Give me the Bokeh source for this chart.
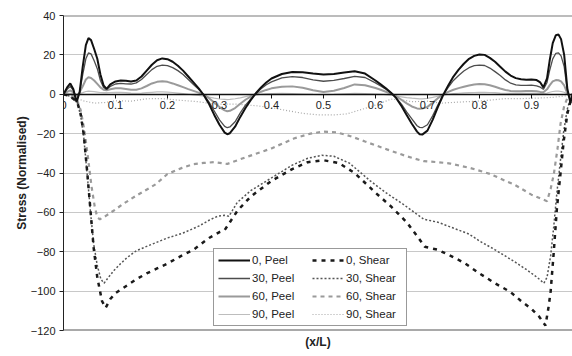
from bokeh.plotting import figure
from bokeh.models import Range1d, FixedTicker, Span, Legend, LegendItem, LinearAxis
from bokeh.embed import file_html
from bokeh.resources import INLINE

FONT = "Liberation Sans"

# ---------------- data ----------------
peel_x = [0, 0.007, 0.013, 0.019, 0.025, 0.031, 0.037, 0.043, 0.048, 0.053, 0.059, 0.065, 0.071, 0.077,
          0.083, 0.09, 0.1, 0.11, 0.12, 0.13, 0.14, 0.15, 0.16, 0.17, 0.18, 0.19, 0.2, 0.21, 0.22, 0.23,
          0.24, 0.25, 0.26, 0.27, 0.28, 0.29, 0.3, 0.31, 0.315, 0.32, 0.33, 0.34, 0.35, 0.36, 0.37, 0.38,
          0.39, 0.4, 0.42, 0.44, 0.46, 0.48, 0.5, 0.52, 0.54, 0.56, 0.58, 0.6, 0.61, 0.62, 0.63, 0.64,
          0.65, 0.66, 0.67, 0.68, 0.685, 0.69, 0.7, 0.71, 0.72, 0.73, 0.74, 0.75, 0.76, 0.77, 0.78, 0.79,
          0.8, 0.81, 0.82, 0.83, 0.84, 0.85, 0.86, 0.87, 0.88, 0.89, 0.9, 0.91, 0.917, 0.923, 0.93, 0.935,
          0.941, 0.947, 0.952, 0.957, 0.963, 0.969, 0.975, 0.981, 0.987, 0.993, 1.0]

peel_0 = [0, 3.5, 5.5, 2.5, -4, 1, 14, 25, 28.5, 27.5, 23, 18, 10, 4.5,
          2.7, 5, 6.5, 7, 6.8, 6.5, 7, 9, 12, 15, 17.3, 18.2, 17.8, 16.5, 14.5, 12,
          9, 6, 3, -0.5, -5, -10.5, -15.5, -19.5, -20.3, -19.8, -16.5, -11.5, -7, -3, 0.5, 3.5,
          6, 8, 10.3, 11.3, 11.2, 10.5, 10, 10.3, 11, 11.7, 10.5, 7, 5, 3, 0.8, -2,
          -6, -10.5, -15, -19, -20.3, -20.5, -18.5, -13, -6.5, -0.5, 4.5, 9, 12.5, 15.5, 18, 19.5,
          20.2, 20, 18.5, 16.5, 14, 11.5, 9.5, 8.2, 7.6, 7.4, 7.5, 7.2, 6, 3.5, 8, 17,
          26, 30, 30.3, 28, 20, 3, -4.5, 2, 5, 3, 0]

peel_30 = [0, 2.5, 4, 2, -3, 1, 10, 18, 21, 20.5, 17, 13, 7, 3.5,
           2.5, 4, 5.2, 5.5, 5.3, 5.2, 5.8, 7.5, 10, 12.5, 14.2, 14.8, 14.5, 13.5, 12, 10,
           7.5, 5, 2.5, -0.3, -4, -8.5, -13, -16.3, -17, -16.6, -14, -9.5, -5.5, -2.5, 0.4, 2.8,
           4.8, 6.3, 8.3, 9, 8.5, 7.3, 6.6, 7, 8, 9.1, 8.5, 5.8, 4.2, 2.5, 0.6, -1.8,
           -5, -9, -12.5, -16, -16.8, -17, -15.5, -11, -5.5, -0.4, 3.5, 7, 9.5, 11.8, 13.5, 14.5,
           14.8, 14.6, 13.3, 11.5, 9.5, 7.3, 5.6, 4.8, 4.5, 4.5, 4.6, 4.3, 3.6, 2.5, 6, 12,
           18, 20.8, 21, 19.5, 14, 2, -3.5, 1.5, 4, 2.5, 0]

peel_60 = [0, 1.2, 2, 1, -1, 1, 4, 7.5, 8.6, 8.3, 7, 5.3, 3.5, 2.3,
           2, 2.5, 3, 3, 2.7, 2.3, 2.3, 3, 4.2, 5.5, 6.3, 6.6, 6.3, 5.5, 4.6, 3.6,
           2.6, 1.7, 0.8, -0.2, -2, -4.2, -6.5, -8.2, -8.6, -8.4, -7, -4.8, -2.8, -1.2, 0.2, 1.3,
           2.2, 3, 3.8, 4, 3.3, 2, 1.2, 1.8, 3.2, 5, 4.6, 3.2, 2.3, 1.3, 0.3, -1,
           -2.8, -4.6, -6.2, -7.2, -7.4, -7.3, -6.4, -4.3, -2, -0.2, 1.2, 2.3, 3.1, 3.8, 4.4, 4.9,
           5.2, 5.1, 4.6, 3.8, 2.9, 2.2, 1.7, 1.5, 1.5, 1.6, 1.6, 1.5, 1.2, 1, 2.5, 4.5,
           6.5, 7.2, 7.1, 6.5, 4.5, 0.5, -1.5, 0.5, 2, 1.2, 0]

peel_90 = [0, 0.3, 0.5, 0.3, 0, 0.3, 0.8, 1.4, 1.6, 1.5, 1.3, 1.1, 0.9, 0.8,
           0.8, 0.9, 1, 1, 0.8, 0.6, 0.5, 0.6, 0.8, 1, 1.2, 1.2, 1.1, 0.9, 0.6, 0.3,
           0, -0.3, -0.6, -1, -1.5, -2, -2.4, -2.6, -2.7, -2.6, -2.3, -1.8, -1.2, -0.7, -0.3, 0,
           0.2, 0.3, 0.4, 0.3, 0.1, -0.1, -0.2, -0.1, 0.2, 0.4, 0.3, 0.1, 0, -0.2, -0.5, -0.9,
           -1.3, -1.7, -2, -2.2, -2.3, -2.3, -2.1, -1.6, -1, -0.4, 0, 0.3, 0.5, 0.7, 0.8, 0.9,
           1, 1, 0.9, 0.8, 0.6, 0.5, 0.4, 0.4, 0.4, 0.4, 0.4, 0.4, 0.3, 0.3, 0.6, 1,
           1.4, 1.6, 1.6, 1.4, 1, 0.2, -0.2, 0.1, 0.4, 0.2, 0]

shear_0_x = [0, 0.01, 0.02, 0.027, 0.033, 0.039, 0.046, 0.052, 0.058, 0.065, 0.074, 0.081, 0.09, 0.1,
             0.12, 0.14, 0.16, 0.18, 0.2, 0.22, 0.25, 0.28, 0.3, 0.31, 0.32, 0.335, 0.36, 0.4, 0.44,
             0.47, 0.5, 0.53, 0.56, 0.6, 0.63, 0.66, 0.68, 0.695, 0.72, 0.74, 0.77, 0.8, 0.83, 0.86,
             0.88, 0.9, 0.915, 0.927, 0.933, 0.937, 0.943, 0.949, 0.956, 0.962, 0.969, 0.975, 0.985, 1.0]
shear_0 = [0, -0.8, -2.5, -4.5, -10, -20.5, -40.6, -59.4, -78, -93, -105, -108.5, -104, -101,
           -97.5, -94, -91, -88.5, -86, -83, -79, -73, -70, -69, -65, -59, -52, -44, -38,
           -34.5, -33.5, -35, -40, -50, -57, -65, -72, -77.5, -79, -81.5, -85.5, -91, -96, -100.5,
           -105, -109, -113, -117.5, -108, -100, -80, -58, -40, -24, -10, -3.6, -1.5, 0]

shear_30_x = [0, 0.01, 0.02, 0.027, 0.033, 0.039, 0.046, 0.052, 0.058, 0.065, 0.072, 0.078, 0.085, 0.097,
              0.11, 0.122, 0.14, 0.167, 0.2, 0.23, 0.26, 0.28, 0.296, 0.31, 0.318, 0.325, 0.334, 0.36,
              0.4, 0.44, 0.47, 0.497, 0.52, 0.55, 0.59, 0.62, 0.654, 0.68, 0.693, 0.72, 0.74, 0.78,
              0.8, 0.83, 0.866, 0.89, 0.911, 0.924, 0.93, 0.937, 0.943, 0.949, 0.956, 0.962, 0.969,
              0.975, 0.985, 1.0]
shear_30 = [0, -0.8, -2.5, -4.5, -11, -22, -42, -60, -76, -87, -94, -96, -93.5, -89.5,
            -86, -83, -79.5, -76.5, -73, -70.5, -67, -64, -62, -61.5, -62, -59, -55, -49,
            -42.5, -36, -32.5, -31, -31.5, -35, -44, -50, -56, -61, -63.5, -65, -67, -71,
            -74.5, -79, -84.8, -89, -93, -96, -93, -82, -67, -50, -33, -19, -7.5,
            -2.5, -1, 0]

shear_60_x = [0, 0.015, 0.025, 0.033, 0.04, 0.047, 0.054, 0.06, 0.065, 0.07, 0.08, 0.1, 0.113, 0.14,
              0.177, 0.2, 0.228, 0.25, 0.27, 0.29, 0.315, 0.34, 0.366, 0.4, 0.443, 0.475, 0.5, 0.525,
              0.552, 0.58, 0.622, 0.66, 0.693, 0.72, 0.744, 0.783, 0.821, 0.85, 0.868, 0.9, 0.93,
              0.937, 0.943, 0.95, 0.956, 0.963, 0.969, 0.98, 1.0]
shear_60 = [0, -0.5, -2, -8, -18, -32, -47, -57, -62.5, -63.5, -62, -58.5, -56, -51.5,
            -45.8, -40.5, -37.4, -35.5, -34.9, -34.5, -35.4, -33, -30.6, -27.5, -22.5, -20, -19, -19.3,
            -21.3, -24, -28, -31.5, -34, -34.5, -35.2, -37.5, -40.5, -44, -46, -51, -54.3,
            -48, -40.7, -28, -15, -6, -2, -0.5, 0]

shear_90_x = [0, 0.02, 0.04, 0.06, 0.08, 0.1, 0.13, 0.16, 0.19, 0.22, 0.26, 0.29, 0.33, 0.37, 0.4,
              0.43, 0.46, 0.49, 0.52, 0.545, 0.57, 0.6, 0.63, 0.65, 0.67, 0.7, 0.725, 0.76, 0.79,
              0.82, 0.85, 0.88, 0.917, 0.94, 0.96, 0.98, 1.0]
shear_90 = [0, -1.5, -3.5, -4.5, -4.2, -3.3, -3.5, -2.3, -2.2, -3, -3.8, -5, -5, -5.8, -6.8,
            -8.3, -9.7, -10.5, -10.5, -10, -8, -5.5, -2.5, -2.8, -3.8, -3.5, -4.5, -4, -3.6,
            -3, -2.2, -2.2, -1.9, -1.6, -1, -0.5, 0]

y_ticks = [-120, -100, -80, -60, -40, -20, 0, 20, 40]
x_ticks = [0, 0.1, 0.2, 0.3, 0.4, 0.5, 0.6, 0.7, 0.8, 0.9]
x_tick_labels = ["0", "0.1", "0.2", "0.3", "0.4", "0.5", "0.6", "0.7", "0.8", "0.9"]

# ---------------- figure ----------------
p = figure(width=572, height=356, output_backend="svg", toolbar_location=None,
           x_range=Range1d(0, 0.979), y_range=Range1d(-120, 40),
           min_border_left=63, min_border_right=0, min_border_top=15, min_border_bottom=26)
p.outline_line_color = None
p.background_fill_color = "white"
p.border_fill_color = "white"

# grid
p.xgrid.visible = False
p.ygrid.ticker = FixedTicker(ticks=[-100, -80, -60, -40, -20, 20])
p.ygrid.grid_line_color = "#c8c8c8"
p.ygrid.grid_line_width = 1

p.add_layout(Span(location=40, dimension="width", line_color="#7a7a7a", line_width=2))
p.add_layout(Span(location=-120, dimension="width", line_color="#555555", line_width=2))

# y axis
p.yaxis.ticker = FixedTicker(ticks=y_ticks)
p.yaxis.axis_label = "Stress (Normalised)"
p.yaxis.axis_label_text_font = FONT
p.yaxis.axis_label_text_font_style = "bold"
p.yaxis.axis_label_text_font_size = "12px"
p.yaxis.axis_label_text_color = "#222222"
p.yaxis.axis_label_standoff = -1
p.yaxis.major_label_text_font = FONT
p.yaxis.major_label_text_font_size = "11px"
p.yaxis.major_label_text_color = "#222222"
p.yaxis.axis_line_color = "#222222"
p.yaxis.major_tick_line_color = "#222222"
p.yaxis.major_tick_out = 4
p.yaxis.major_tick_in = 0
p.yaxis.minor_tick_line_color = None
p.yaxis.major_label_standoff = 4

# x axis at y = 0
p.xaxis.fixed_location = 0
p.xaxis.ticker = FixedTicker(ticks=x_ticks)
p.xaxis.major_label_overrides = {t: l for t, l in zip(x_ticks, x_tick_labels)}
p.xaxis.major_label_text_font = FONT
p.xaxis.major_label_text_font_size = "11px"
p.xaxis.major_label_text_color = "#222222"
p.xaxis.axis_line_color = "#111111"
p.xaxis.axis_line_width = 1.5
p.xaxis.major_tick_line_color = "#111111"
p.xaxis.major_tick_out = 4
p.xaxis.major_tick_in = 0
p.xaxis.minor_tick_line_color = None
p.xaxis.major_label_standoff = 3

# x title on a bare axis below the plot
title_axis = LinearAxis(ticker=FixedTicker(ticks=[]), axis_line_color=None,
                        major_tick_line_color=None, minor_tick_line_color=None,
                        major_label_text_font_size="0px",
                        axis_label="(x/L)", axis_label_text_font=FONT,
                        axis_label_text_font_style="bold", axis_label_text_font_size="12px",
                        axis_label_text_color="#222222", axis_label_standoff=4)
p.add_layout(title_axis, "below")

# ---------------- series ----------------
r_s90 = p.line(shear_90_x, shear_90, line_color="#a8a8a8", line_width=1.2, line_dash="1 2")
r_s60 = p.line(shear_60_x, shear_60, line_color="#9a9a9a", line_width=2.2, line_dash="4 4")
r_s30 = p.line(shear_30_x, shear_30, line_color="#555555", line_width=1.5, line_dash="2 2")
r_s0 = p.line(shear_0_x, shear_0, line_color="#1a1a1a", line_width=2.5, line_dash="4 5")

r_p90 = p.line(peel_x, peel_90, line_color="#bdbdbd", line_width=1.2)
r_p60 = p.line(peel_x, peel_60, line_color="#9a9a9a", line_width=2)
r_p30 = p.line(peel_x, peel_30, line_color="#4d4d4d", line_width=1.3)
r_p0 = p.line(peel_x, peel_0, line_color="#111111", line_width=2)

items = [
    LegendItem(label="0, Peel", renderers=[r_p0]),
    LegendItem(label="30, Peel", renderers=[r_p30]),
    LegendItem(label="60, Peel", renderers=[r_p60]),
    LegendItem(label="90, Peel", renderers=[r_p90]),
    LegendItem(label="0, Shear", renderers=[r_s0]),
    LegendItem(label="30, Shear", renderers=[r_s30]),
    LegendItem(label="60, Shear", renderers=[r_s60]),
    LegendItem(label="90, Shear", renderers=[r_s90]),
]
legend = Legend(items=items, location=(150, 4), ncols=2,
                label_text_font=FONT, label_text_font_size="11.5px", label_text_color="#222222",
                label_height=14, glyph_height=14, glyph_width=32, label_standoff=2,
                label_width=56, spacing=4, padding=4, margin=0,
                border_line_color="#333333", border_line_width=1.5,
                background_fill_color="white", background_fill_alpha=1.0)
p.add_layout(legend)

open("out.html", "w").write(file_html(p, INLINE))
